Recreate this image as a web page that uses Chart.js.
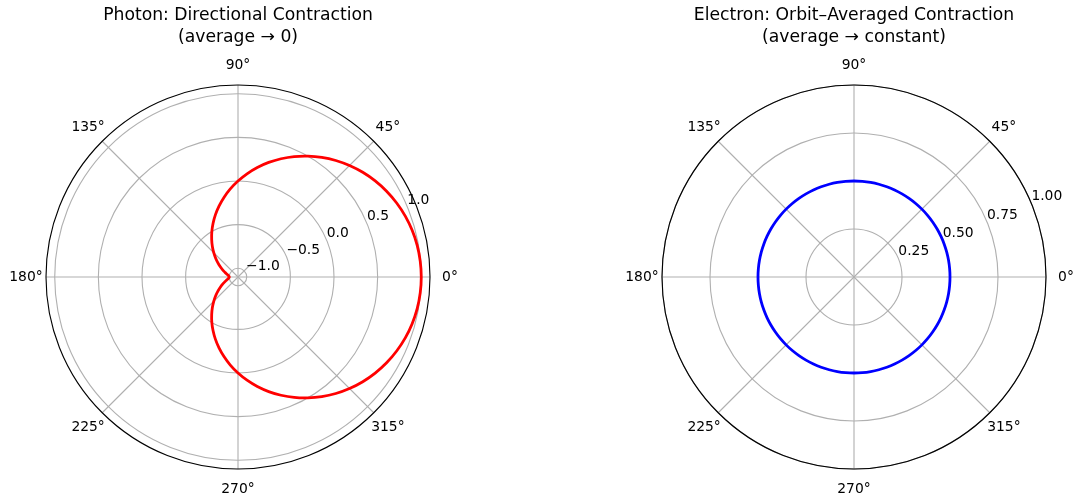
<!DOCTYPE html>
<html>
<head>
<meta charset="utf-8">
<script src="https://cdn.jsdelivr.net/npm/chart.js@4.4.1/dist/chart.umd.min.js"></script>
<style>
  html, body { margin: 0; padding: 0; background: #ffffff; overflow: hidden; }
  body { width: 1075px; height: 500px; position: relative; font-family: "DejaVu Sans", sans-serif; }
  canvas { position: absolute; top: 0; }
  #photon { left: 0; }
  #electron { left: 616px; }
</style>
</head>
<body>
<canvas id="photon" width="476" height="500"></canvas>
<canvas id="electron" width="459" height="500"></canvas>
<script>
// Polar angle of each sample, degrees (counter-clockwise from east)
const thetaDeg = [
  0, 5, 10, 15, 20, 25, 30, 35, 40, 45, 50, 55, 60, 65, 70, 75, 80, 85,
  90, 95, 100, 105, 110, 115, 120, 125, 130, 135, 140, 145, 150, 155, 160, 165, 170, 175,
  180, 185, 190, 195, 200, 205, 210, 215, 220, 225, 230, 235, 240, 245, 250, 255, 260, 265,
  270, 275, 280, 285, 290, 295, 300, 305, 310, 315, 320, 325, 330, 335, 340, 345, 350, 355
];

// Photon: directional contraction factor at each angle
const photonR = [
  1.000, 0.996, 0.985, 0.966, 0.940, 0.906, 0.866, 0.819, 0.766, 0.707, 0.643, 0.574, 0.500, 0.423, 0.342, 0.259, 0.174, 0.087,
  0.000, -0.087, -0.174, -0.259, -0.342, -0.423, -0.500, -0.574, -0.643, -0.707, -0.766, -0.819, -0.866, -0.906, -0.940, -0.966, -0.985, -0.996,
  -1.000, -0.996, -0.985, -0.966, -0.940, -0.906, -0.866, -0.819, -0.766, -0.707, -0.643, -0.574, -0.500, -0.423, -0.342, -0.259, -0.174, -0.087,
  0.000, 0.087, 0.174, 0.259, 0.342, 0.423, 0.500, 0.574, 0.643, 0.707, 0.766, 0.819, 0.866, 0.906, 0.940, 0.966, 0.985, 0.996
];

// Electron: orbit-averaged contraction at each angle
const electronR = [
  0.50, 0.50, 0.50, 0.50, 0.50, 0.50, 0.50, 0.50, 0.50, 0.50, 0.50, 0.50, 0.50, 0.50, 0.50, 0.50, 0.50, 0.50,
  0.50, 0.50, 0.50, 0.50, 0.50, 0.50, 0.50, 0.50, 0.50, 0.50, 0.50, 0.50, 0.50, 0.50, 0.50, 0.50, 0.50, 0.50,
  0.50, 0.50, 0.50, 0.50, 0.50, 0.50, 0.50, 0.50, 0.50, 0.50, 0.50, 0.50, 0.50, 0.50, 0.50, 0.50, 0.50, 0.50,
  0.50, 0.50, 0.50, 0.50, 0.50, 0.50, 0.50, 0.50, 0.50, 0.50, 0.50, 0.50, 0.50, 0.50, 0.50, 0.50, 0.50, 0.50
];

// Axis ticks
const angleTicks = [0, 45, 90, 135, 180, 225, 270, 315];
const photonTicks = [-1.0, -0.5, 0.0, 0.5, 1.0];
const electronTicks = [0.25, 0.50, 0.75, 1.00];

const photonTitle = ['Photon: Directional Contraction', '(average \u2192 0)'];
const electronTitle = ['Electron: Orbit\u2013Averaged Contraction', '(average \u2192 constant)'];

const FONT = '"DejaVu Sans", sans-serif';
const GRID = '#b0b0b0';
const RLABEL_ANGLE = 22.5 * Math.PI / 180;

// Radar scales run clockwise from the start angle; reorder samples so that
// index 0 sits at east and angles increase counter-clockwise.
function clockwise(arr) {
  const n = arr.length;
  return arr.map((_, k) => arr[(n - k) % n]);
}

// Outer spine, angle labels and radial tick labels, placed from the r scale
const polarDecor = {
  id: 'polarDecor',
  afterDraw(chart, args, opts) {
    const s = chart.scales.r;
    const ctx = chart.ctx;
    const cx = s.xCenter, cy = s.yCenter, R = s.drawingArea;
    const labels = chart.data.labels;
    ctx.save();
    ctx.beginPath();
    ctx.arc(cx, cy, R, 0, Math.PI * 2);
    ctx.lineWidth = 1.11;
    ctx.strokeStyle = '#000000';
    ctx.stroke();

    ctx.font = '13.89px ' + FONT;
    ctx.fillStyle = '#000000';
    ctx.textAlign = 'center';
    ctx.textBaseline = 'middle';
    opts.angles.forEach(a => {
      const p = s.getPointPosition(labels.indexOf(a), R + 20);
      ctx.fillText(a + '\u00b0', p.x, p.y);
    });

    ctx.textAlign = 'left';
    ctx.textBaseline = 'bottom';
    opts.ticks.forEach(v => {
      const d = s.getDistanceFromCenterForValue(v);
      const txt = v.toFixed(opts.decimals).replace('-', '\u2212');
      ctx.fillText(txt, cx + d * Math.cos(RLABEL_ANGLE), cy - d * Math.sin(RLABEL_ANGLE));
    });
    ctx.restore();
  }
};

function makePolar(canvasId, titleLines, values, color, rMin, rMax, gridTicks, labelTicks, decimals, padRight) {
  const labels = clockwise(thetaDeg);
  const data = clockwise(values);
  return new Chart(document.getElementById(canvasId), {
    type: 'radar',
    data: {
      labels: labels,
      datasets: [{
        data: data,
        borderColor: color,
        borderWidth: 2.8,
        borderJoinStyle: 'round',
        backgroundColor: 'rgba(0,0,0,0)',
        fill: false,
        pointRadius: 0,
        pointHoverRadius: 0,
        tension: 0.33
      }]
    },
    options: {
      responsive: false,
      animation: false,
      events: [],
      layout: { padding: { top: 0, left: 46, right: padRight, bottom: 31 } },
      plugins: {
        legend: { display: false },
        tooltip: { enabled: false },
        title: {
          display: true,
          text: titleLines,
          color: '#000000',
          font: { family: FONT, size: 17.2, weight: 'normal', lineHeight: 22 / 17.2 },
          padding: { top: 4.7, bottom: 36.3 }
        },
        polarDecor: { angles: angleTicks, ticks: labelTicks, decimals: decimals }
      },
      scales: {
        r: {
          min: rMin,
          max: rMax,
          startAngle: 90,
          afterBuildTicks: axis => { axis.ticks = gridTicks.map(v => ({ value: v })); },
          ticks: { display: false },
          pointLabels: { display: false },
          grid: { circular: true, color: GRID, lineWidth: 1.11 },
          angleLines: {
            color: GRID,
            lineWidth: ctx => (labels[ctx.index] % 45 === 0 ? 1.11 : 0)
          }
        }
      }
    },
    plugins: [polarDecor]
  });
}

makePolar('photon', photonTitle, photonR, '#ff0000', -1.1, 1.1,
  photonTicks, photonTicks, 1, 46);
makePolar('electron', electronTitle, electronR, '#0000ff', 0, 1.0,
  [0].concat(electronTicks), electronTicks, 2, 29);
</script>
</body>
</html>
